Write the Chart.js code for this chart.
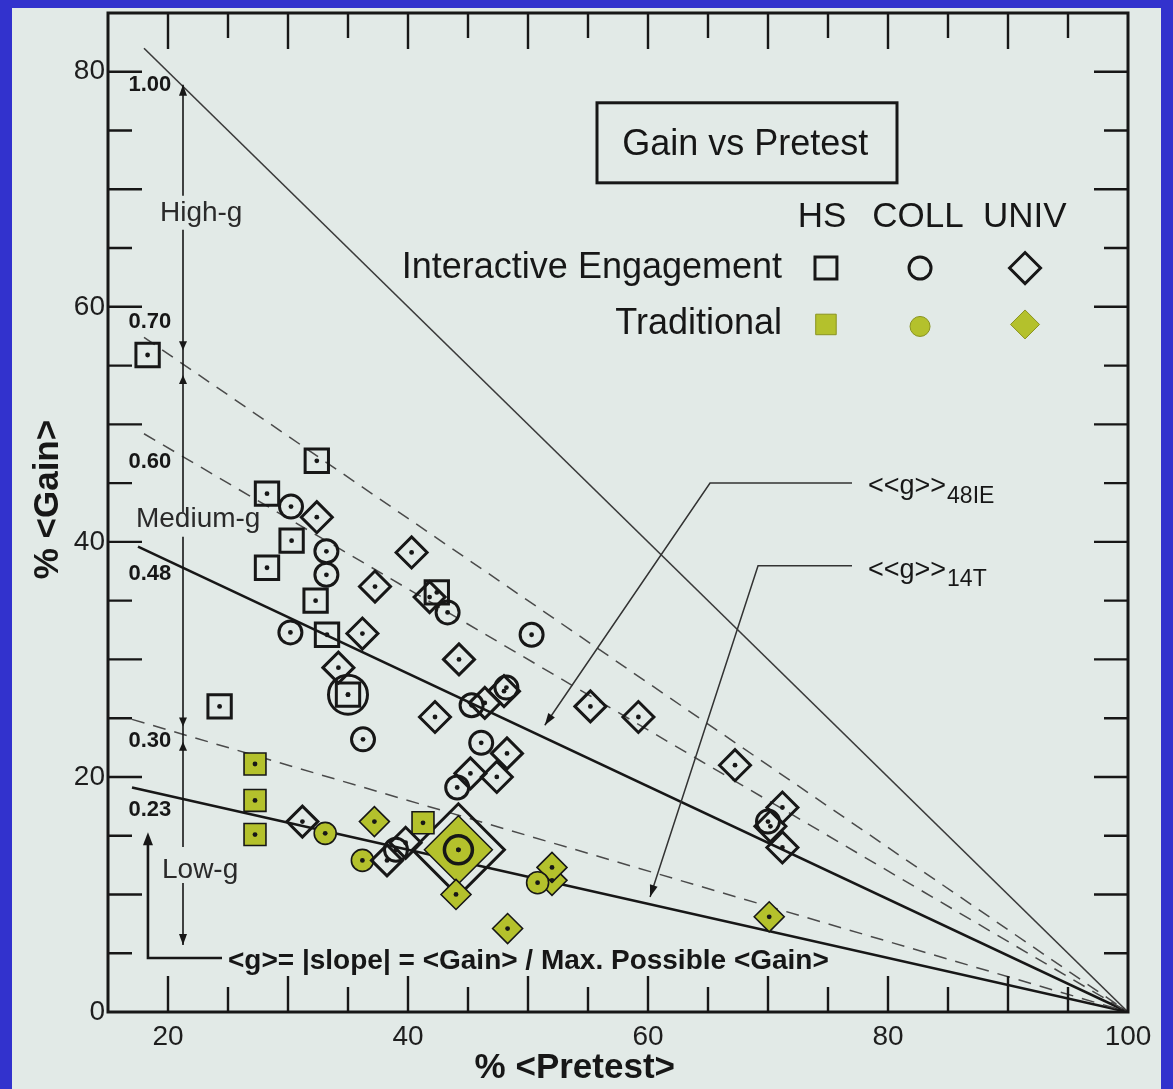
<!DOCTYPE html>
<html>
<head>
<meta charset="utf-8">
<title>Gain vs Pretest</title>
<script src="https://cdn.jsdelivr.net/npm/chart.js@4.4.0/dist/chart.umd.min.js"></script>
<style>
  html, body { margin: 0; padding: 0; background: #3232cd; overflow: hidden; }
  #wrap { position: relative; width: 1173px; height: 1089px; }
</style>
</head>
<body>
<div id="wrap"><canvas id="gainChart"></canvas></div>
<script>
// Axis tick labels
const xTicks = [20, 40, 60, 80, 100];
const yTicks = [0, 20, 40, 60, 80];

// Interactive Engagement courses [pretest %, gain %]
const ieHs = [[18.3, 55.9], [32.4, 46.9], [28.25, 44.1], [30.3, 40.1], [28.25, 37.8],
  [32.3, 35.0], [33.25, 32.1], [35.0, 27.0], [24.3, 26.0], [42.4, 35.7]];
const ieColl = [[30.25, 43.0], [33.2, 39.2], [33.2, 37.2], [30.2, 32.3], [36.25, 23.2],
  [50.3, 32.1], [43.3, 34.0], [48.2, 27.6], [45.3, 26.1], [46.1, 22.9], [44.1, 19.1],
  [39.0, 13.8], [70.0, 16.2]];
const ieCollBig = [[35.0, 27.0]];
const ieUniv = [[32.4, 42.1], [40.3, 39.1], [37.25, 36.2], [36.2, 32.2], [34.2, 29.3],
  [44.25, 30.0], [42.25, 25.1], [46.4, 26.3], [48.0, 27.3], [48.25, 22.0], [47.4, 20.0],
  [45.2, 20.3], [55.2, 26.0], [59.2, 25.1], [67.25, 21.0], [71.2, 17.4], [70.2, 15.8],
  [71.2, 14.0], [31.2, 16.2], [38.25, 12.9], [39.8, 14.4], [41.8, 35.3]];
const ieUnivBig = [[44.2, 13.8]];

// Traditional courses [pretest %, gain %]
const tradHs = [[27.25, 21.1], [27.25, 18.0], [27.25, 15.1], [41.25, 16.1]];
const tradColl = [[33.1, 15.2], [36.2, 12.9], [50.8, 11.0]];
const tradCollBig = [[44.2, 13.8]];
const tradUniv = [[37.2, 16.2], [44.0, 10.0], [48.3, 7.1], [52.0, 11.2], [52.0, 12.3], [70.1, 8.1]];
const tradUnivBig = [[44.2, 13.8]];

// <g> reference lines: label, start point, end point
const gLabels = ['1.00', '0.70', '0.60', '0.48', '0.30', '0.23'];
const gStartX = [18, 18, 18, 17.5, 17, 17];
const gStartY = [82, 57.4, 49.2, 39.6, 24.9, 19.1];
const gEndX = [100, 100, 100, 100, 100, 100];
const gEndY = [0, 0, 0, 0, 0, 0];
const gLabelY = [78.9, 58.7, 46.8, 37.3, 23.1, 17.2];

const FONT = "'Liberation Sans', Arial, Helvetica, sans-serif";
const ink = '#171717';
const olive = '#b4c12c';

const toXY = pts => pts.map(p => ({ x: p[0], y: p[1] }));

const lineStyles = [
  { w: 1.6, dash: [], color: '#3a3a3a' },
  { w: 1.5, dash: [13, 9], color: '#4a4a4a' },
  { w: 1.5, dash: [13, 9], color: '#4a4a4a' },
  { w: 2.6, dash: [], color: ink },
  { w: 1.5, dash: [13, 9], color: '#4a4a4a' },
  { w: 2.6, dash: [], color: ink }
];

const lineSets = gLabels.map((g, i) => ({
  label: 'g=' + g,
  data: [{ x: gStartX[i], y: gStartY[i] }, { x: gEndX[i], y: gEndY[i] }],
  showLine: true,
  borderColor: lineStyles[i].color,
  borderWidth: lineStyles[i].w,
  borderDash: lineStyles[i].dash,
  pointRadius: 0,
  fill: false,
  order: 10
}));

function markers(label, pts, style, radius, fill, bw, order) {
  return {
    label,
    data: toXY(pts),
    showLine: false,
    pointStyle: style,
    pointRadius: radius,
    pointHoverRadius: radius,
    pointBackgroundColor: fill,
    pointBorderColor: ink,
    pointBorderWidth: bw,
    order
  };
}

const allPts = [].concat(ieHs, ieColl, ieCollBig, ieUniv, ieUnivBig, tradHs, tradColl, tradCollBig, tradUniv);

const datasets = lineSets.concat([
  markers('Trad UNIV big', tradUnivBig, 'rectRot', 34, olive, 1.5, 7),
  markers('IE UNIV big', ieUnivBig, 'rectRot', 46, 'rgba(0,0,0,0)', 3, 6),
  markers('Trad HS', tradHs, 'rect', 15.5, olive, 1.6, 4),
  markers('Trad COLL', tradColl, 'circle', 11, olive, 1.6, 4),
  markers('Trad COLL big', tradCollBig, 'circle', 14, olive, 3.5, 4),
  markers('Trad UNIV', tradUniv, 'rectRot', 15, olive, 1.6, 4),
  markers('IE HS', ieHs, 'rect', 16.5, 'rgba(0,0,0,0)', 3, 3),
  markers('IE COLL', ieColl, 'circle', 11.5, 'rgba(0,0,0,0)', 3, 3),
  markers('IE COLL big', ieCollBig, 'circle', 19.5, 'rgba(0,0,0,0)', 3, 3),
  markers('IE UNIV', ieUniv, 'rectRot', 15.5, 'rgba(0,0,0,0)', 3, 3),
  markers('dots', allPts, 'circle', 2.4, ink, 0, 0)
]);

// helpers for the drawn decorations
function shape(ctx, style, x, y, r) {
  ctx.beginPath();
  if (style === 'rect') {
    const s = r * Math.SQRT1_2;
    ctx.rect(x - s, y - s, 2 * s, 2 * s);
  } else if (style === 'circle') {
    ctx.arc(x, y, r, 0, Math.PI * 2);
  } else {
    ctx.moveTo(x - r, y); ctx.lineTo(x, y - r); ctx.lineTo(x + r, y); ctx.lineTo(x, y + r); ctx.closePath();
  }
}

function arrowHead(ctx, x, y, angle, len, half) {
  ctx.save();
  ctx.translate(x, y);
  ctx.rotate(angle);
  ctx.beginPath();
  ctx.moveTo(0, 0);
  ctx.lineTo(-len, -half);
  ctx.lineTo(-len, half);
  ctx.closePath();
  ctx.fill();
  ctx.restore();
}

const decor = {
  id: 'decor',
  beforeDraw(chart) {
    const { ctx, width, height } = chart;
    ctx.save();
    ctx.fillStyle = '#3232cd';
    ctx.fillRect(0, 0, width, height);
    ctx.fillStyle = '#e2eae7';
    ctx.fillRect(12, 8, 1149, height - 8);
    ctx.restore();
  },
  afterDatasetsDraw(chart) {
    const { ctx, chartArea: a, scales: { x: xs, y: ys } } = chart;
    const X = v => xs.getPixelForValue(v);
    const Y = v => ys.getPixelForValue(v);
    ctx.save();
    ctx.strokeStyle = ink;
    ctx.fillStyle = ink;

    // inward ticks on all four sides
    ctx.lineWidth = 2.4;
    ctx.beginPath();
    for (let v = xs.min + 5; v < xs.max; v += 5) {
      const len = v % 10 === 0 ? 36 : 25;
      const px = X(v);
      ctx.moveTo(px, a.bottom); ctx.lineTo(px, a.bottom - len);
      ctx.moveTo(px, a.top); ctx.lineTo(px, a.top + len);
    }
    for (let v = ys.min + 5; v < ys.max; v += 5) {
      const len = v % 10 === 0 ? 34 : 24;
      const py = Y(v);
      ctx.moveTo(a.left, py); ctx.lineTo(a.left + len, py);
      ctx.moveTo(a.right, py); ctx.lineTo(a.right - len, py);
    }
    ctx.stroke();

    // frame
    ctx.lineWidth = 3;
    ctx.strokeRect(a.left, a.top, a.right - a.left, a.bottom - a.top);

    // axis titles
    ctx.font = 'bold 35px ' + FONT;
    ctx.textAlign = 'center';
    ctx.textBaseline = 'middle';
    ctx.fillText('% <Pretest>', X(53.9), Y(-4.8));
    ctx.save();
    ctx.translate(X(10.0), Y(43.6));
    ctx.rotate(-Math.PI / 2);
    ctx.fillText('% <Gain>', 0, 0);
    ctx.restore();

    // g labels along the left axis
    ctx.font = 'bold 22px ' + FONT;
    ctx.textAlign = 'left';
    gLabels.forEach((g, i) => ctx.fillText(g, X(16.7), Y(gLabelY[i])));

    // High / Medium / Low range arrow
    ctx.lineWidth = 1.6;
    ctx.beginPath();
    [[78.9, 69.45], [66.55, 42.47], [40.43, 14.04], [10.98, 5.7]].forEach(s => {
      ctx.moveTo(X(21.25), Y(s[0])); ctx.lineTo(X(21.25), Y(s[1]));
    });
    ctx.stroke();
    arrowHead(ctx, X(21.25), Y(78.9), -Math.PI / 2, 11, 4);
    arrowHead(ctx, X(21.25), Y(56.3), Math.PI / 2, 9, 4);
    arrowHead(ctx, X(21.25), Y(54.2), -Math.PI / 2, 9, 4);
    arrowHead(ctx, X(21.25), Y(24.3), Math.PI / 2, 9, 4);
    arrowHead(ctx, X(21.25), Y(23.0), -Math.PI / 2, 9, 4);
    arrowHead(ctx, X(21.25), Y(5.7), Math.PI / 2, 11, 4);
    ctx.font = '28px ' + FONT;
    ctx.fillStyle = '#2a2a2a';
    ctx.fillText('High-g', X(19.33), Y(68.0));
    ctx.fillText('Medium-g', X(17.33), Y(41.9));
    ctx.fillText('Low-g', X(19.5), Y(12.1));
    ctx.fillStyle = ink;

    // slope definition with L-shaped arrow
    ctx.lineWidth = 2.6;
    ctx.beginPath();
    ctx.moveTo(X(24.5), Y(4.6));
    ctx.lineTo(X(18.33), Y(4.6));
    ctx.lineTo(X(18.33), Y(14.5));
    ctx.stroke();
    arrowHead(ctx, X(18.33), Y(15.3), -Math.PI / 2, 13, 5);
    ctx.font = 'bold 28px ' + FONT;
    ctx.fillText('<g>= |slope| = <Gain> / Max. Possible <Gain>', X(25.0), Y(4.35));

    // leader lines to the class-average lines
    const leader = (pts, label, sub, ty) => {
      ctx.lineWidth = 1.5;
      ctx.strokeStyle = '#333';
      ctx.beginPath();
      pts.forEach((p, i) => i ? ctx.lineTo(X(p[0]), Y(p[1])) : ctx.moveTo(X(p[0]), Y(p[1])));
      ctx.stroke();
      const p1 = pts[pts.length - 2], p2 = pts[pts.length - 1];
      const ang = Math.atan2(Y(p2[1]) - Y(p1[1]), X(p2[0]) - X(p1[0]));
      arrowHead(ctx, X(p2[0]), Y(p2[1]), ang, 12, 4);
      ctx.font = '27px ' + FONT;
      ctx.textAlign = 'left';
      ctx.fillText(label, X(78.33), Y(ty));
      const w = ctx.measureText(label).width;
      ctx.font = '23px ' + FONT;
      ctx.fillText(sub, X(78.33) + w + 1, Y(ty) + 10);
    };
    leader([[77.0, 45.0], [65.17, 45.0], [51.4, 24.4]], '<<g>>', '48IE', 44.7);
    leader([[77.0, 37.96], [69.17, 37.96], [60.17, 9.79]], '<<g>>', '14T', 37.6);
    ctx.strokeStyle = ink;

    // legend box
    ctx.lineWidth = 3;
    ctx.strokeRect(X(55.75), Y(77.36), X(80.75) - X(55.75), Y(70.55) - Y(77.36));
    ctx.font = '36px ' + FONT;
    ctx.textAlign = 'center';
    ctx.fillText('Gain vs Pretest', X(68.1), Y(73.8));
    ctx.font = '35px ' + FONT;
    ctx.fillText('HS', X(74.5), Y(67.6));
    ctx.fillText('COLL', X(82.5), Y(67.6));
    ctx.fillText('UNIV', X(91.4), Y(67.6));
    ctx.font = '36px ' + FONT;
    ctx.textAlign = 'right';
    ctx.fillText('Interactive Engagement', X(71.17), Y(63.3));
    ctx.fillText('Traditional', X(71.17), Y(58.5));

    const cols = [[74.83, 'rect', 15.5], [82.67, 'circle', 11], [91.42, 'rectRot', 15.5]];
    ctx.lineWidth = 3;
    cols.forEach(c => {
      shape(ctx, c[1], X(c[0]), Y(63.3), c[2]);
      ctx.stroke();
      shape(ctx, c[1], X(c[0]), Y(58.5) + (c[1] === 'circle' ? 2 : 0), c[2] - 1);
      ctx.fillStyle = olive;
      ctx.fill();
      ctx.lineWidth = 1;
      ctx.strokeStyle = '#8a9420';
      ctx.stroke();
      ctx.lineWidth = 3;
      ctx.strokeStyle = ink;
      ctx.fillStyle = ink;
    });
    ctx.restore();
  }
};

const ctx = document.getElementById('gainChart');
new Chart(ctx, {
  type: 'scatter',
  data: { datasets },
  options: {
    responsive: true,
    maintainAspectRatio: false,
    animation: false,
    layout: { autoPadding: false, padding: { top: 13, right: 45, left: 0, bottom: 0 } },
    plugins: {
      legend: { display: false },
      tooltip: { enabled: false }
    },
    scales: {
      x: {
        type: 'linear',
        min: 15,
        max: 100,
        afterBuildTicks: s => { s.ticks = xTicks.map(v => ({ value: v })); },
        afterFit: s => { s.height = 77; s.paddingLeft = 0; s.paddingRight = 0; },
        grid: { display: false, drawTicks: false },
        border: { display: false },
        ticks: { color: '#1e1e1e', padding: 8, maxRotation: 0, font: { family: FONT, size: 28 } }
      },
      y: {
        type: 'linear',
        min: 0,
        max: 85,
        afterBuildTicks: s => { s.ticks = yTicks.map(v => ({ value: v })); },
        afterFit: s => { s.width = 108; s.paddingTop = 0; s.paddingBottom = 0; },
        grid: { display: false, drawTicks: false },
        border: { display: false },
        ticks: { color: '#1e1e1e', padding: 3, font: { family: FONT, size: 28 } }
      }
    }
  },
  plugins: [decor]
});
</script>
</body>
</html>
